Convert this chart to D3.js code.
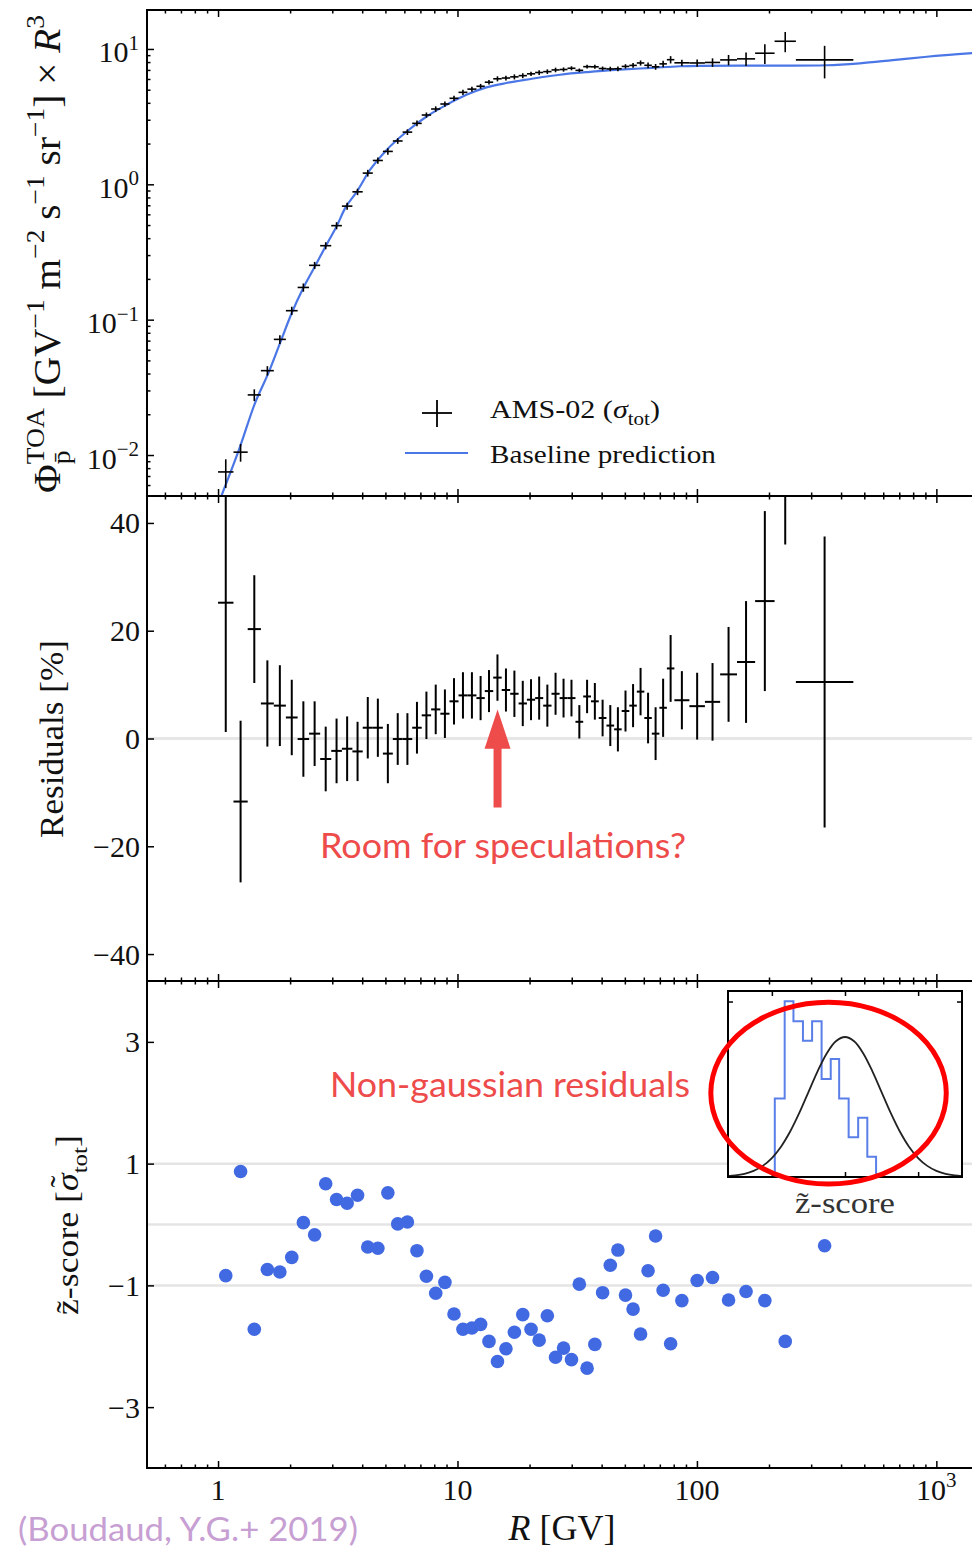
<!DOCTYPE html>
<html>
<head>
<meta charset="utf-8">
<title>Antiproton flux, residuals and z-scores</title>
<script src="https://cdn.jsdelivr.net/npm/d3@7"></script>
<style>
  body { margin: 0; background: #fff; }
  svg { display: block; }
</style>
</head>
<body>
<div id="chart"></div>
<script>
// AMS-02 rigidity bins [GV] (58 edges -> 57 bins)
var binEdges = [1.00, 1.16, 1.33, 1.51, 1.71, 1.92, 2.15, 2.40, 2.67, 2.97, 3.29, 3.64, 4.02, 4.43, 4.88,
  5.37, 5.90, 6.47, 7.09, 7.76, 8.48, 9.26, 10.1, 11.0, 12.0, 13.0, 14.1, 15.3, 16.6, 18.0, 19.5, 21.1,
  22.8, 24.7, 26.7, 28.8, 31.1, 33.5, 36.1, 38.9, 41.9, 45.1, 48.5, 52.2, 56.1, 60.3, 64.8, 69.7, 74.9,
  80.5, 93.0, 108, 125, 147, 175, 211, 259, 450];

// flux x R^3
var fluxR3 = [0.0075, 0.0105, 0.0278, 0.042, 0.0715, 0.1165, 0.173, 0.252, 0.352, 0.495,
  0.69, 0.88, 1.21, 1.50, 1.75, 2.09, 2.43, 2.82, 3.25, 3.6,
  3.92, 4.32, 4.78, 5.05, 5.3, 5.68, 6.02, 6.1, 6.22, 6.35,
  6.55, 6.7, 6.8, 7.0, 7.05, 7.2, 6.95, 7.4, 7.38, 7.17,
  7.12, 7.14, 7.43, 7.56, 7.88, 7.57, 7.38, 7.76, 8.33, 7.9,
  7.88, 7.95, 8.3, 8.45, 9.3, 11.4, 8.3];

// residuals [%] and their (relative) uncertainty
var residuals = [25.2, -11.7, 20.3, 6.5, 6.1, 3.9, -0.1, 0.9, -3.8, -2.3,
  -1.9, -2.4, 2.0, 2.0, -2.8, -0.1, -0.1, 2.0, 4.3, 5.4,
  4.6, 6.9, 8.0, 8.0, 7.5, 8.8, 11.3, 9.0, 8.3, 6.5,
  7.2, 7.5, 6.1, 8.3, 7.5, 7.5, 3.1, 7.8, 6.9, 3.8,
  2.4, 1.7, 5.1, 6.1, 8.7, 3.8, 0.9, 5.7, 13.0, 7.1,
  6.0, 6.8, 11.9, 14.2, 25.5, 53, 10.5];
var residualErr = [24, 15, 10, 8, 7.5, 7, 7, 6, 6, 6,
  6, 5.5, 5.7, 5.4, 5.5, 4.8, 4.8, 4.8, 4.4, 4.6,
  4.5, 4.3, 4.3, 4.3, 4.1, 3.9, 4.3, 4.0, 4.3, 4.2,
  3.8, 4.0, 3.9, 3.9, 3.6, 3.4, 3.1, 3.1, 3.4, 3.4,
  3.8, 4.1, 3.8, 4.0, 4.4, 4.7, 4.9, 5.4, 6.2, 5.4,
  6.2, 7.2, 8.8, 11.3, 16.7, 17, 27];

// z-scores (bottom panel)
var zScores = [-0.84, 0.87, -1.72, -0.74, -0.78, -0.54, 0.03, -0.17, 0.67, 0.41,
  0.35, 0.48, -0.37, -0.39, 0.52, 0.01, 0.04, -0.43, -0.85, -1.13,
  -0.95, -1.47, -1.72, -1.70, -1.64, -1.92, -2.25, -2.04, -1.77, -1.48,
  -1.72, -1.90, -1.50, -2.18, -2.03, -2.22, -0.98, -2.36, -1.97, -1.12,
  -0.67, -0.42, -1.16, -1.39, -1.80, -0.76, -0.19, -1.08, -1.96, -1.25,
  -0.92, -0.87, -1.24, -1.10, -1.25, -1.92, -0.35];

// baseline prediction
var modelR = [1.0, 1.036, 1.235, 1.427, 1.622, 1.815, 2.031, 2.272, 2.541, 2.842, 3.132, 3.39, 3.80, 4.31,
  5.06, 6.14, 7.43, 9.01, 10.9, 13.2, 16.0, 18.2, 22.0, 26.8, 35.0, 47.7, 65.0, 84.9, 103, 150, 250,
  349, 479, 658, 913, 1450];
var modelFlux = [0.0043, 0.00506, 0.0115, 0.0242, 0.0403, 0.0671, 0.112, 0.172, 0.248, 0.360, 0.492, 0.664,
  0.883, 1.276, 1.795, 2.455, 3.17, 3.87, 4.58, 5.20, 5.60, 5.82, 6.15, 6.45, 6.75, 7.03, 7.25, 7.45,
  7.50, 7.52, 7.53, 7.58, 7.83, 8.27, 8.76, 9.35];

// inset: z-score histogram (density) and unit gaussian
var histEdges = [-1.92, -1.65, -1.41, -1.15, -0.90, -0.64, -0.39, -0.16, 0.10, 0.36, 0.61, 0.85,
  1.10, 1.36, 1.61, 1.86, 2.11];
var histDensity = [0.224, 0.501, 0.444, 0.388, 0.444, 0.279, 0.336, 0.224, 0.113, 0.169, 0.058,
  0, 0, 0, 0, 0];
var gaussZ = [-3.2, -3, -2.75, -2.5, -2.25, -2, -1.75, -1.5, -1.25, -1, -0.75, -0.5, -0.25, 0,
  0.25, 0.5, 0.75, 1, 1.25, 1.5, 1.75, 2, 2.25, 2.5, 2.75, 3, 3.2];
var gaussPdf = [0.0024, 0.0044, 0.0091, 0.0175, 0.0317, 0.054, 0.0863, 0.1295, 0.1826, 0.242, 0.3011,
  0.3521, 0.3867, 0.3989, 0.3867, 0.3521, 0.3011, 0.242, 0.1826, 0.1295, 0.0863, 0.054, 0.0317,
  0.0175, 0.0091, 0.0044, 0.0024];

// ticks
var xTickValues = [1, 10, 100, 1000];
var xTickLabels = [["1"], ["10"], ["100"], ["10", "3"]];
var fluxTickValues = [0.01, 0.1, 1, 10];
var fluxTickExp = ["\u22122", "\u22121", "0", "1"];
var resTickValues = [-40, -20, 0, 20, 40];
var zTickValues = [-3, -1, 1, 3];
var zGridValues = [-1, 0, 1];
var insetTickValues = [-2, 0, 2];

var serif = "'Liberation Serif', 'DejaVu Serif', serif";
var sans = "Lato, 'Open Sans', sans-serif";
var noteRed = "#ee4b4b";
var blue = "#4169e1";

var W = 972, H = 1549;
var left = 147, right = 975;
var pFlux = [10, 496], pRes = [496, 981], pZ = [981, 1468];

var svg = d3.select("#chart").append("svg")
    .attr("width", W).attr("height", H)
    .style("font-family", serif);

var x = d3.scaleLog().domain([0.505, 1450]).range([left, right]);
var yFlux = d3.scaleLog().domain([0.00498, 19.4]).range([pFlux[1], pFlux[0]]);
var yRes = d3.scaleLinear().domain([-45, 45]).range([pRes[1], pRes[0]]);
var yZ = d3.scaleLinear().domain([-4, 4]).range([pZ[1], pZ[0]]);

var bins = fluxR3.map(function(f, i) {
    var lo = binEdges[i], hi = binEdges[i + 1];
    return {lo: lo, hi: hi, mid: Math.sqrt(lo * hi), flux: f,
            res: residuals[i], err: residualErr[i], z: zScores[i]};
});

// text made of runs (super/subscripts, italics), optional stretch to a target width
function richText(parent, runs, opts) {
    var outer = parent.append("g");
    var inner = outer.append("g");
    var cx = 0, stackW = 0;
    runs.forEach(function(r) {
        if (typeof r === "string") r = {t: r};
        var fs = opts.size * (r.sup || r.sub ? 0.7 : 1);
        var dy = r.dy != null ? r.dy * opts.size
               : (r.sup ? -0.42 * opts.size : (r.sub ? 0.28 * opts.size : 0));
        var t = inner.append("text")
            .attr("x", cx + (r.dx || 0) * opts.size).attr("y", dy)
            .attr("fill", opts.color || "#111")
            .style("font-size", fs + "px")
            .style("font-family", opts.family || serif)
            .style("font-style", r.italic ? "italic" : "normal")
            .text(r.t.replace(/ /g, "\u00a0"));
        var w = t.node().getComputedTextLength();
        if (r.stack) stackW = r.noWidth ? 0 : w;
        else { cx += Math.max(w, stackW); stackW = 0; }
    });
    var sx = opts.fit ? opts.fit / cx : 1;
    var shift = opts.anchor === "middle" ? -cx / 2 : (opts.anchor === "end" ? -cx : 0);
    inner.attr("transform", "scale(" + sx + ",1) translate(" + shift + ",0)");
    return outer;
}

// clip paths
var defs = svg.append("defs");
[["clip-flux", pFlux], ["clip-res", pRes], ["clip-z", pZ]].forEach(function(c) {
    defs.append("clipPath").attr("id", c[0]).append("rect")
        .attr("x", left).attr("y", c[1][0]).attr("width", right - left).attr("height", c[1][1] - c[1][0]);
});

// ---------- top panel: flux ----------
var topG = svg.append("g").attr("clip-path", "url(#clip-flux)");
var modelLine = d3.line()
    .x(function(d) { return x(d[0]); })
    .y(function(d) { return yFlux(d[1]); })
    .curve(d3.curveMonotoneX);
topG.append("path")
    .datum(modelR.map(function(r, i) { return [r, modelFlux[i]]; }))
    .attr("d", modelLine)
    .attr("fill", "none")
    .attr("stroke", "#4a76e6")
    .attr("stroke-width", 2.2);

var fluxPts = topG.selectAll("g.fp").data(bins).join("g").attr("class", "fp")
    .attr("stroke", "#000").attr("stroke-width", 1.6);
fluxPts.append("line")
    .attr("x1", function(d) { return x(d.lo); }).attr("x2", function(d) { return x(d.hi); })
    .attr("y1", function(d) { return yFlux(d.flux); }).attr("y2", function(d) { return yFlux(d.flux); });
fluxPts.append("line")
    .attr("x1", function(d) { return x(d.mid); }).attr("x2", function(d) { return x(d.mid); })
    .attr("y1", function(d) { return yFlux(d.flux * (1 - d.err / 100)); })
    .attr("y2", function(d) { return yFlux(d.flux * (1 + d.err / 100)); });

// legend
var leg = svg.append("g");
leg.append("line").attr("x1", 422).attr("x2", 452).attr("y1", 413).attr("y2", 413)
    .attr("stroke", "#000").attr("stroke-width", 1.8);
leg.append("line").attr("x1", 437).attr("x2", 437).attr("y1", 400).attr("y2", 427)
    .attr("stroke", "#000").attr("stroke-width", 1.8);
leg.append("line").attr("x1", 405).attr("x2", 468).attr("y1", 453).attr("y2", 453)
    .attr("stroke", "#4a76e6").attr("stroke-width", 2.2);
richText(leg, ["AMS-02 (", {t: "\u03c3", italic: true}, {t: "tot", sub: true}, ")"],
    {size: 26, fit: 170}).attr("transform", "translate(490,418)");
richText(leg, ["Baseline prediction"], {size: 26, fit: 226}).attr("transform", "translate(490,463)");

// ---------- middle panel: residuals ----------
svg.append("line")
    .attr("x1", left).attr("x2", right).attr("y1", yRes(0)).attr("y2", yRes(0))
    .attr("stroke", "#e6e6e6").attr("stroke-width", 3);
var midG = svg.append("g").attr("clip-path", "url(#clip-res)");
var resPts = midG.selectAll("g.rp").data(bins).join("g").attr("class", "rp")
    .attr("stroke", "#000").attr("stroke-width", 2);
resPts.append("line")
    .attr("x1", function(d) { return x(d.lo); }).attr("x2", function(d) { return x(d.hi); })
    .attr("y1", function(d) { return yRes(d.res); }).attr("y2", function(d) { return yRes(d.res); });
resPts.append("line")
    .attr("x1", function(d) { return x(d.mid); }).attr("x2", function(d) { return x(d.mid); })
    .attr("y1", function(d) { return yRes(d.res - d.err); })
    .attr("y2", function(d) { return yRes(d.res + d.err); });

// arrow + note
var arrowNote = {R: 14.7, tip: 5.4, neck: -1.9, tail: -12.8};
var ax0 = x(arrowNote.R);
svg.append("polygon")
    .attr("points", [
        [ax0, yRes(arrowNote.tip)], [ax0 + 13, yRes(arrowNote.neck)], [ax0 + 4, yRes(arrowNote.neck)],
        [ax0 + 4, yRes(arrowNote.tail)], [ax0 - 4, yRes(arrowNote.tail)], [ax0 - 4, yRes(arrowNote.neck)],
        [ax0 - 13, yRes(arrowNote.neck)]
    ].map(function(p) { return p.join(","); }).join(" "))
    .attr("fill", noteRed);
svg.append("text")
    .attr("x", 320).attr("y", 858)
    .attr("textLength", 366).attr("lengthAdjust", "spacingAndGlyphs")
    .style("font-family", sans).style("font-size", "35px")
    .attr("fill", noteRed)
    .text("Room for speculations?");

// ---------- bottom panel: z-scores ----------
svg.append("g").selectAll("line").data(zGridValues).join("line")
    .attr("x1", left).attr("x2", right)
    .attr("y1", function(d) { return yZ(d); }).attr("y2", function(d) { return yZ(d); })
    .attr("stroke", "#e4e4e4").attr("stroke-width", 2.5);
var botG = svg.append("g").attr("clip-path", "url(#clip-z)");
botG.selectAll("circle").data(bins).join("circle")
    .attr("cx", function(d) { return x(d.mid); })
    .attr("cy", function(d) { return yZ(d.z); })
    .attr("r", 6.8)
    .attr("fill", blue);

svg.append("text")
    .attr("x", 330).attr("y", 1097)
    .attr("textLength", 360).attr("lengthAdjust", "spacingAndGlyphs")
    .style("font-family", sans).style("font-size", "35px")
    .attr("fill", noteRed)
    .text("Non-gaussian residuals");

// inset histogram
var insetX = d3.scaleLinear().domain([-3.2, 3.2]).range([728, 962]);
var insetY = d3.scaleLinear().domain([0, 0.53]).range([1177, 991]);
var inset = svg.append("g");
inset.append("rect")
    .attr("x", insetX.range()[0]).attr("y", insetY.range()[1])
    .attr("width", insetX.range()[1] - insetX.range()[0])
    .attr("height", insetY.range()[0] - insetY.range()[1])
    .attr("fill", "#fff");
var stepPts = [[histEdges[0], 0]];
histDensity.forEach(function(h, i) {
    stepPts.push([histEdges[i], h]);
    stepPts.push([histEdges[i + 1], h]);
});
var insetLine = d3.line()
    .x(function(d) { return insetX(d[0]); })
    .y(function(d) { return insetY(d[1]); });
inset.append("path").datum(stepPts)
    .attr("d", insetLine)
    .attr("fill", "none").attr("stroke", "#5a7fe8").attr("stroke-width", 2);
inset.append("path")
    .datum(gaussZ.map(function(z, i) { return [z, gaussPdf[i]]; }))
    .attr("d", insetLine.curve(d3.curveCatmullRom))
    .attr("fill", "none").attr("stroke", "#222").attr("stroke-width", 1.8);
inset.append("rect")
    .attr("x", insetX.range()[0]).attr("y", insetY.range()[1])
    .attr("width", insetX.range()[1] - insetX.range()[0])
    .attr("height", insetY.range()[0] - insetY.range()[1])
    .attr("fill", "none").attr("stroke", "#000").attr("stroke-width", 2);

function clean(g) {
    g.select(".domain").remove();
    g.selectAll("line").attr("stroke", "#000").attr("stroke-width", 1.5);
    g.selectAll("text").remove();
}
inset.append("g").attr("transform", "translate(0," + insetY.range()[0] + ")")
    .call(d3.axisBottom(insetX).tickValues(insetTickValues).tickSizeInner(-5).tickSizeOuter(0)).call(clean);
inset.append("g").attr("transform", "translate(0," + insetY.range()[1] + ")")
    .call(d3.axisTop(insetX).tickValues(insetTickValues).tickSizeInner(-5).tickSizeOuter(0)).call(clean);
inset.append("g").attr("transform", "translate(" + insetX.range()[0] + ",0)")
    .call(d3.axisLeft(insetY).tickValues([0.5]).tickSizeInner(-5).tickSizeOuter(0)).call(clean);
inset.append("g").attr("transform", "translate(" + insetX.range()[1] + ",0)")
    .call(d3.axisRight(insetY).tickValues([0.5]).tickSizeInner(-5).tickSizeOuter(0)).call(clean);
richText(inset, ["z\u0303-score"], {size: 30, fit: 100, anchor: "middle", color: "#333"})
    .attr("transform", "translate(" + insetX(0) + ",1213)");

// red ellipse around the inset
var ellipseNote = {z: -0.45, density: 0.239, rz: 3.22, rDensity: 0.259};
svg.append("ellipse")
    .attr("cx", insetX(ellipseNote.z)).attr("cy", insetY(ellipseNote.density))
    .attr("rx", insetX(ellipseNote.z + ellipseNote.rz) - insetX(ellipseNote.z))
    .attr("ry", insetY(0) - insetY(ellipseNote.rDensity))
    .attr("fill", "none").attr("stroke", "#f00").attr("stroke-width", 5);

// ---------- frames and ticks ----------
[pFlux, pRes, pZ].forEach(function(p) {
    svg.append("rect")
        .attr("x", left).attr("y", p[0]).attr("width", right - left).attr("height", p[1] - p[0])
        .attr("fill", "none").attr("stroke", "#000").attr("stroke-width", 2);
});

var xMinor = [];
[0.1, 1, 10, 100, 1000].forEach(function(dec) {
    for (var k = 2; k <= 9; k++) {
        var v = dec * k;
        if (v > x.domain()[0] && v < x.domain()[1]) xMinor.push(v);
    }
});
function xTicksAt(y0, top) {
    var mk = top ? d3.axisTop : d3.axisBottom;
    svg.append("g").attr("transform", "translate(0," + y0 + ")")
        .call(mk(x).tickValues(xTickValues).tickSizeInner(-7).tickSizeOuter(0)).call(clean);
    svg.append("g").attr("transform", "translate(0," + y0 + ")")
        .call(mk(x).tickValues(xMinor).tickSizeInner(-3.5).tickSizeOuter(0)).call(clean);
}
[pFlux, pRes, pZ].forEach(function(p) { xTicksAt(p[0], true); xTicksAt(p[1], false); });

var yMinor = [];
[0.001, 0.01, 0.1, 1, 10].forEach(function(dec) {
    for (var k = 2; k <= 9; k++) {
        var v = dec * k;
        if (v > yFlux.domain()[0] && v < yFlux.domain()[1]) yMinor.push(v);
    }
});
svg.append("g").attr("transform", "translate(" + left + ",0)")
    .call(d3.axisLeft(yFlux).tickValues(fluxTickValues).tickSizeInner(-7).tickSizeOuter(0)).call(clean);
svg.append("g").attr("transform", "translate(" + left + ",0)")
    .call(d3.axisLeft(yFlux).tickValues(yMinor).tickSizeInner(-3.5).tickSizeOuter(0)).call(clean);
svg.append("g").attr("transform", "translate(" + left + ",0)")
    .call(d3.axisLeft(yRes).tickValues(resTickValues).tickSizeInner(-7).tickSizeOuter(0)).call(clean);
svg.append("g").attr("transform", "translate(" + left + ",0)")
    .call(d3.axisLeft(yZ).tickValues(zTickValues).tickSizeInner(-7).tickSizeOuter(0)).call(clean);

// tick labels
var tickSize = 30;
fluxTickValues.forEach(function(v, i) {
    richText(svg, ["10", {t: fluxTickExp[i], sup: true}], {size: tickSize, anchor: "end"})
        .attr("transform", "translate(139," + (yFlux(v) + 13.5) + ")");
});
resTickValues.forEach(function(v) {
    richText(svg, [String(v).replace("-", "\u2212")], {size: tickSize, anchor: "end"})
        .attr("transform", "translate(140," + (yRes(v) + 10.5) + ")");
});
zTickValues.forEach(function(v) {
    richText(svg, [String(v).replace("-", "\u2212")], {size: tickSize, anchor: "end"})
        .attr("transform", "translate(140," + (yZ(v) + 10.5) + ")");
});
xTickValues.forEach(function(v, i) {
    var lab = xTickLabels[i];
    var runs = lab.length > 1 ? [lab[0], {t: lab[1], sup: true}] : [lab[0]];
    richText(svg, runs, {size: tickSize, anchor: "middle"})
        .attr("transform", "translate(" + x(v) + ",1500)");
});

// axis titles
richText(svg, [
    "\u03a6", {t: "TOA", sup: true, stack: true}, {t: "p\u0304", sub: true},
    " [GV", {t: "\u22121", sup: true}, " m", {t: "\u22122", sup: true}, " s", {t: "\u22121", sup: true},
    " sr", {t: "\u22121", sup: true}, "] \u00d7 ", {t: "R", italic: true}, {t: "3", sup: true}
], {size: 37, anchor: "middle", fit: 478})
    .attr("transform", "translate(60,254) rotate(-90)");
richText(svg, ["Residuals [%]"], {size: 34, anchor: "middle", fit: 198})
    .attr("transform", "translate(63,739) rotate(-90)");
richText(svg, ["z\u0303-score [", {t: "\u02dc", stack: true, noWidth: true, dy: -0.2, dx: 0.1},
    {t: "\u03c3", italic: true}, {t: "tot", sub: true}, "]"],
    {size: 31, anchor: "middle", fit: 180})
    .attr("transform", "translate(78,1225) rotate(-90)");
richText(svg, [{t: "R", italic: true}, " [GV]"], {size: 35, anchor: "middle", fit: 107})
    .attr("transform", "translate(562,1540)");

// citation
svg.append("text")
    .attr("x", 18).attr("y", 1541)
    .attr("textLength", 340).attr("lengthAdjust", "spacingAndGlyphs")
    .style("font-family", sans).style("font-size", "33px")
    .attr("fill", "#c79fd3")
    .text("(Boudaud, Y.G.+ 2019)");
</script>
</body>
</html>
